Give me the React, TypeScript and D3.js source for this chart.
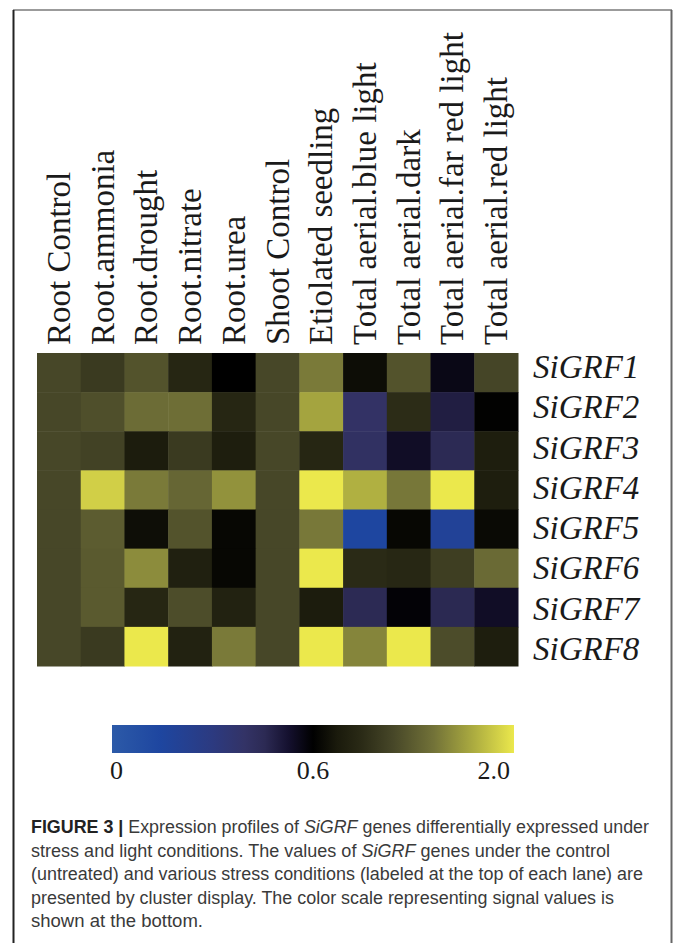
import React from "react";
import * as d3 from "d3";

const conditions = [
  "Root Control",
  "Root.ammonia",
  "Root.drought",
  "Root.nitrate",
  "Root.urea",
  "Shoot Control",
  "Etiolated seedling",
  "Total aerial.blue light",
  "Total aerial.dark",
  "Total aerial.far red light",
  "Total aerial.red light",
];

const genes = ["SiGRF1", "SiGRF2", "SiGRF3", "SiGRF4", "SiGRF5", "SiGRF6", "SiGRF7", "SiGRF8"];

const SiGRF1 = [1.0, 0.93, 1.09, 0.81, 0.6, 1.0, 1.38, 0.66, 1.09, 0.565, 0.99];
const SiGRF2 = [1.0, 1.06, 1.29, 1.3, 0.81, 1.0, 1.62, 0.4, 0.85, 0.49, 0.61];
const SiGRF3 = [1.0, 0.97, 0.735, 0.93, 0.75, 1.0, 0.81, 0.41, 0.54, 0.456, 0.75];
const SiGRF4 = [1.0, 1.86, 1.38, 1.24, 1.52, 1.0, 2.0, 1.69, 1.36, 2.0, 0.75];
const SiGRF5 = [1.0, 1.16, 0.665, 1.09, 0.63, 1.0, 1.37, 0.144, 0.63, 0.19, 0.645];
const SiGRF6 = [1.0, 1.15, 1.48, 0.765, 0.63, 1.0, 2.0, 0.84, 0.82, 0.95, 1.27];
const SiGRF7 = [1.0, 1.15, 0.81, 1.05, 0.78, 1.0, 0.735, 0.456, 0.59, 0.46, 0.54];
const SiGRF8 = [1.0, 0.93, 2.0, 0.78, 1.38, 1.0, 2.0, 1.44, 2.0, 1.04, 0.75];

const matrix = [SiGRF1, SiGRF2, SiGRF3, SiGRF4, SiGRF5, SiGRF6, SiGRF7, SiGRF8];

const legendTicks = [0, 0.6, 2.0];
const legendTickLabels = ["0", "0.6", "2.0"];

// colour map (position along the colour bar -> colour)
const mapPositions = [0, 0.12, 0.25, 0.33, 0.38, 0.44, 0.5, 0.56, 0.62, 0.7, 0.8, 0.9, 1.0];
const mapColors = [
  "#2c5aa8", "#1e46a0", "#2c3a80", "#333366", "#2c2a54", "#14102e", "#000000",
  "#1a1a0c", "#2a2a16", "#474728", "#727238", "#acac40", "#ebe84c",
];
// signal value -> position on colour bar
const valueDomain = [0, 0.6, 1.0, 2.0];
const valuePositions = [0, 0.5, 0.7, 1.0];

const captionLines = [
  [
    { t: "FIGURE 3 |", s: "b" },
    { t: " Expression profiles of ", s: "n" },
    { t: "SiGRF", s: "i" },
    { t: " genes differentially expressed under", s: "n" },
  ],
  [
    { t: "stress and light conditions. The values of ", s: "n" },
    { t: "SiGRF", s: "i" },
    { t: " genes under the control", s: "n" },
  ],
  [{ t: "(untreated) and various stress conditions (labeled at the top of each lane) are", s: "n" }],
  [{ t: "presented by cluster display. The color scale representing signal values is", s: "n" }],
  [{ t: "shown at the bottom.", s: "n" }],
];

export default function App() {
  const W = 673;
  const H = 943;
  const hm = { x0: 37, x1: 518, y0: 353, y1: 666 };

  const x = d3.scaleBand<string>().domain(conditions).range([hm.x0, hm.x1]);
  const y = d3.scaleBand<string>().domain(genes).range([hm.y0, hm.y1]);
  const yLabel = d3.scaleBand<string>().domain(genes).range([347, 669]);

  const toPos = d3.scaleLinear().domain(valueDomain).range(valuePositions).clamp(true);
  const cmap = d3
    .scaleLinear<string>()
    .domain(mapPositions)
    .range(mapColors)
    .interpolate(d3.interpolateRgb);

  const bar = { x0: 112, x1: 514, y0: 725, y1: 753 };
  const barX = d3.scaleLinear().domain([0, 1]).range([bar.x0, bar.x1]);

  const captionWidths = [618, 579, 612, 583, 172];
  const captionX = 31;
  const captionY0 = 833;
  const captionDy = 23.5;

  const serif = "'Liberation Serif', 'Times New Roman', serif";
  const sans = "'Liberation Sans', Arial, sans-serif";

  return (
    <svg
      width={W}
      height={H}
      viewBox={`0 0 ${W} ${H}`}
      style={{ position: "absolute", left: 0, top: 0, background: "#fff" }}
    >
      <defs>
        <linearGradient id="cbar" x1="0" x2="1" y1="0" y2="0">
          {mapPositions.map((p, i) => (
            <stop key={i} offset={p} stopColor={mapColors[i]} />
          ))}
        </linearGradient>
      </defs>
      <rect x={0} y={0} width={W} height={H} fill="#fff" />

      {/* frame */}
      <line x1={13} y1={10} x2={672} y2={10} stroke="#7a7a7a" strokeWidth={1.6} />
      <line x1={13.5} y1={10} x2={13.5} y2={H} stroke="#222" strokeWidth={2} />
      <line x1={671.5} y1={10} x2={671.5} y2={H} stroke="#666" strokeWidth={2} />

      {/* heatmap cells */}
      {matrix.map((row, ri) =>
        row.map((v, ci) => (
          <rect
            key={`${ri}-${ci}`}
            x={x(conditions[ci])}
            y={y(genes[ri])}
            width={x.bandwidth() + 0.5}
            height={y.bandwidth() + 0.5}
            fill={cmap(toPos(v))}
          />
        ))
      )}

      {/* column labels */}
      {conditions.map((c) => {
        const cx = (x(c) as number) + x.bandwidth() / 2 + 11;
        return (
          <text
            key={c}
            transform={`translate(${cx},345) rotate(-90)`}
            fontFamily={serif}
            fontSize={33}
            fill="#1a1a1a"
          >
            {c}
          </text>
        );
      })}

      {/* row labels */}
      {genes.map((g) => (
        <text
          key={g}
          x={533}
          y={(yLabel(g) as number) + yLabel.bandwidth() / 2 + 11}
          fontFamily={serif}
          fontStyle="italic"
          fontSize={33}
          fill="#1a1a1a"
        >
          {g}
        </text>
      ))}

      {/* colour bar */}
      <rect
        x={bar.x0}
        y={bar.y0}
        width={bar.x1 - bar.x0}
        height={bar.y1 - bar.y0}
        fill="url(#cbar)"
      />
      {legendTicks.map((v, i) => {
        const px = barX(toPos(v));
        const anchor = i === 0 ? "start" : i === legendTicks.length - 1 ? "end" : "middle";
        const dx = i === 0 ? -2 : i === legendTicks.length - 1 ? -4 : 0;
        return (
          <text
            key={i}
            x={px + dx}
            y={779}
            textAnchor={anchor}
            fontFamily={serif}
            fontSize={26}
            fill="#1a1a1a"
          >
            {legendTickLabels[i]}
          </text>
        );
      })}

      {/* caption */}
      {captionLines.map((parts, li) => (
        <text
          key={li}
          x={captionX}
          y={captionY0 + li * captionDy}
          fontFamily={sans}
          fontSize={17.5}
          fill="#3a3a3a"
          textLength={captionWidths[li]}
          lengthAdjust="spacingAndGlyphs"
        >
          {parts.map((p, pi) => (
            <tspan
              key={pi}
              fontWeight={p.s === "b" ? "bold" : "normal"}
              fontStyle={p.s === "i" ? "italic" : "normal"}
              fill={p.s === "b" ? "#222" : "#3a3a3a"}
            >
              {p.t}
            </tspan>
          ))}
        </text>
      ))}
    </svg>
  );
}
